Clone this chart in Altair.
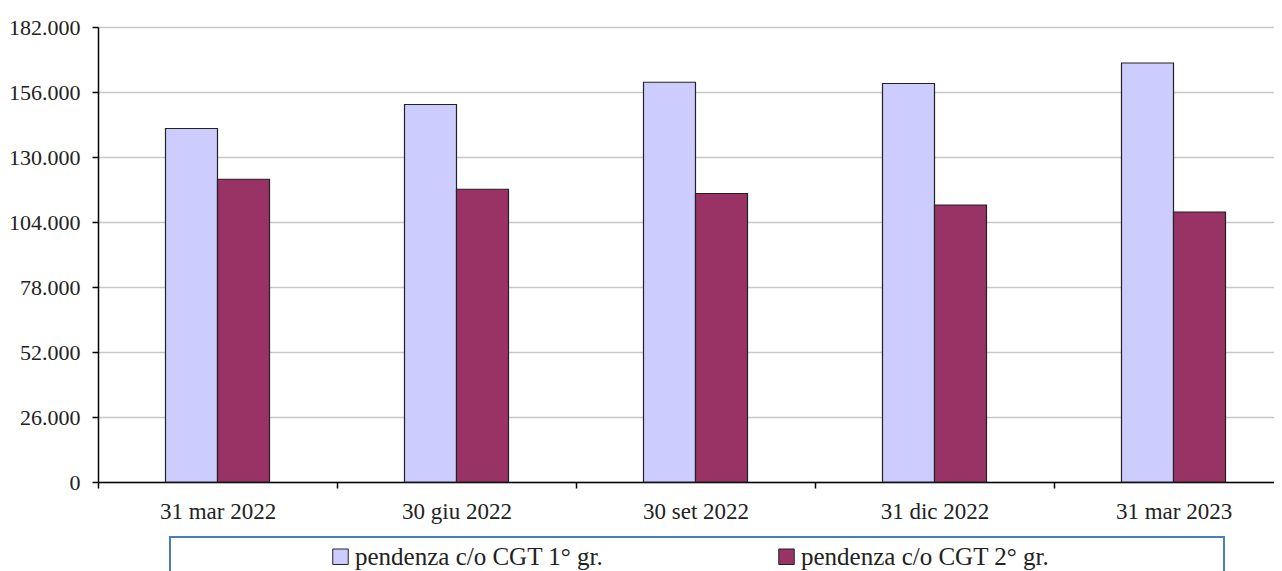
import altair as alt
import pandas as pd

categories = ["31 mar 2022", "30 giu 2022", "30 set 2022", "31 dic 2022", "31 mar 2023"]
series_names = ["pendenza c/o CGT 1° gr.", "pendenza c/o CGT 2° gr."]
values_1 = [141400, 151000, 159900, 159400, 167600]
values_2 = [121100, 117100, 115400, 110800, 108000]
y_ticks = [0, 26000, 52000, 78000, 104000, 130000, 156000, 182000]
colors = ["#CCCCFF", "#993366"]

rows = []
for c, a, b in zip(categories, values_1, values_2):
    rows.append({"periodo": c, "serie": series_names[0], "valore": a})
    rows.append({"periodo": c, "serie": series_names[1], "valore": b})
df = pd.DataFrame(rows)

FONT = "Liberation Serif"
TXT = "#222222"

offset_domain = ["_l"] + series_names + ["_r"]

bars = alt.Chart(df).mark_bar(stroke="#222222", strokeWidth=1.2).encode(
    x=alt.X(
        "periodo:N", sort=categories, title=None,
        scale=alt.Scale(paddingInner=0, paddingOuter=0, range=[0, 1195]),
        axis=alt.Axis(
            labelAngle=0, tickBand="extent", labelFont=FONT, labelFontSize=23,
            labelColor=TXT, labelPadding=12, tickSize=6, tickColor="#000000",
            tickWidth=1.5, domainColor="#000000", domainWidth=1.5, grid=False,
        ),
    ),
    xOffset=alt.XOffset(
        "serie:N",
        scale=alt.Scale(domain=offset_domain, paddingInner=0, paddingOuter=0.298),
    ),
    y=alt.Y(
        "valore:Q", title=None,
        scale=alt.Scale(domain=[0, 182000], nice=False),
        axis=alt.Axis(
            values=y_ticks,
            labelExpr="replace(format(datum.value, ','), ',', '.')",
            labelFont=FONT, labelFontSize=22, labelColor=TXT, labelPadding=12,
            tickSize=6, tickColor="#000000", tickWidth=1.5,
            domainColor="#000000", domainWidth=1.5,
            grid=True, gridColor="#c8c8c8", gridWidth=1.5,
        ),
    ),
    color=alt.Color(
        "serie:N",
        scale=alt.Scale(domain=series_names, range=colors),
        legend=alt.Legend(
            orient="none", legendX=230, legendY=517, direction="horizontal",
            title=None, symbolType="square", symbolSize=240,
            symbolStrokeColor="#222222", symbolStrokeWidth=1,
            labelFont=FONT, labelFontSize=25,
            labelColor=TXT, labelLimit=0, columnPadding=170, labelOffset=2,
            padding=0,
        ),
    ),
)

box_df = pd.DataFrame({"k": [1]})
legend_box = alt.Chart(box_df).mark_rect(
    filled=False, stroke="#4a7ebb", strokeWidth=2
).encode(
    x=alt.value(72), x2=alt.value(1126),
    y=alt.value(510), y2=alt.value(600),
)

chart = alt.layer(bars, legend_box).properties(
    width=1176,
    height=455,
    autosize=alt.AutoSizeParams(type="none"),
    padding={"left": 90, "top": 19, "right": 0, "bottom": 100},
    background="white",
).configure_view(stroke=None).configure_legend(
    labelFont=FONT, labelFontSize=25, labelColor=TXT
)

chart.save("out.html", embed_options={"renderer": "svg", "actions": False})
